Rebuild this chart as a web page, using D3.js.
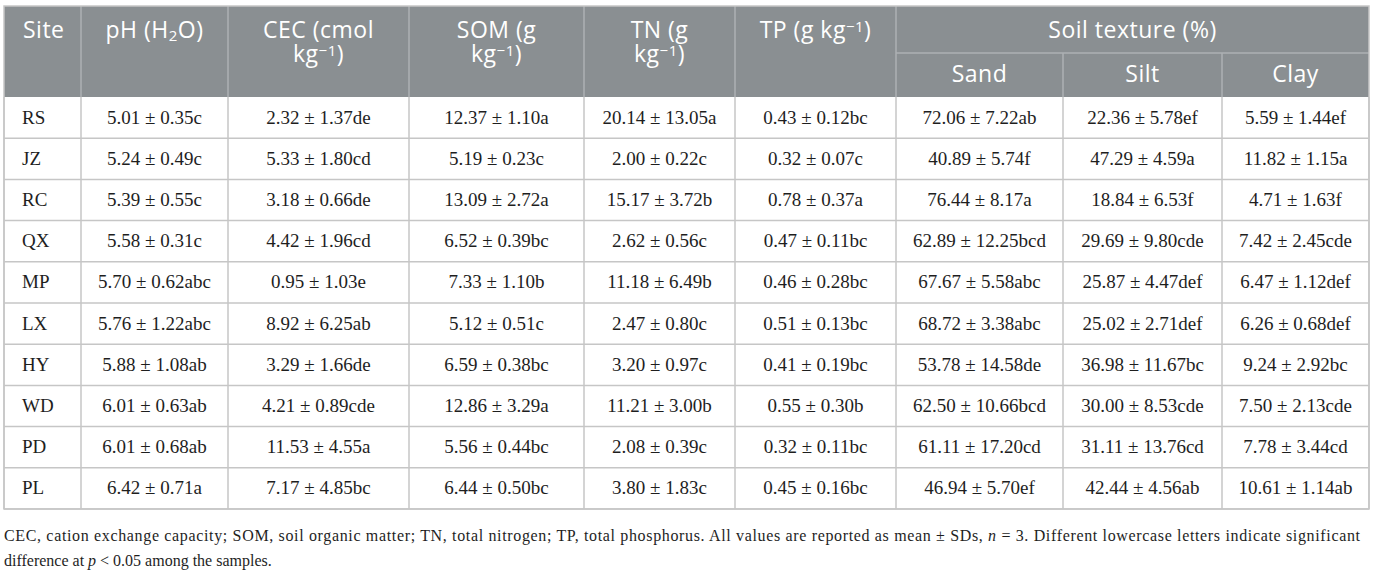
<!DOCTYPE html>
<html>
<head>
<meta charset="utf-8">
<script src="https://cdn.jsdelivr.net/npm/d3@7"></script>
<style>
  body { margin: 0; background: #fff; }
</style>
</head>
<body>
<script>
const W = 1375, H = 583;

// data: each cell is [mean, sd, letters]
const sites = ["RS", "JZ", "RC", "QX", "MP", "LX", "HY", "WD", "PD", "PL"];
const ph = [[5.01, 0.35, "c"], [5.24, 0.49, "c"], [5.39, 0.55, "c"], [5.58, 0.31, "c"], [5.70, 0.62, "abc"],
  [5.76, 1.22, "abc"], [5.88, 1.08, "ab"], [6.01, 0.63, "ab"], [6.01, 0.68, "ab"], [6.42, 0.71, "a"]];
const cec = [[2.32, 1.37, "de"], [5.33, 1.80, "cd"], [3.18, 0.66, "de"], [4.42, 1.96, "cd"], [0.95, 1.03, "e"],
  [8.92, 6.25, "ab"], [3.29, 1.66, "de"], [4.21, 0.89, "cde"], [11.53, 4.55, "a"], [7.17, 4.85, "bc"]];
const som = [[12.37, 1.10, "a"], [5.19, 0.23, "c"], [13.09, 2.72, "a"], [6.52, 0.39, "bc"], [7.33, 1.10, "b"],
  [5.12, 0.51, "c"], [6.59, 0.38, "bc"], [12.86, 3.29, "a"], [5.56, 0.44, "bc"], [6.44, 0.50, "bc"]];
const tn = [[20.14, 13.05, "a"], [2.00, 0.22, "c"], [15.17, 3.72, "b"], [2.62, 0.56, "c"], [11.18, 6.49, "b"],
  [2.47, 0.80, "c"], [3.20, 0.97, "c"], [11.21, 3.00, "b"], [2.08, 0.39, "c"], [3.80, 1.83, "c"]];
const tp = [[0.43, 0.12, "bc"], [0.32, 0.07, "c"], [0.78, 0.37, "a"], [0.47, 0.11, "bc"], [0.46, 0.28, "bc"],
  [0.51, 0.13, "bc"], [0.41, 0.19, "bc"], [0.55, 0.30, "b"], [0.32, 0.11, "bc"], [0.45, 0.16, "bc"]];
const sand = [[72.06, 7.22, "ab"], [40.89, 5.74, "f"], [76.44, 8.17, "a"], [62.89, 12.25, "bcd"], [67.67, 5.58, "abc"],
  [68.72, 3.38, "abc"], [53.78, 14.58, "de"], [62.50, 10.66, "bcd"], [61.11, 17.20, "cd"], [46.94, 5.70, "ef"]];
const silt = [[22.36, 5.78, "ef"], [47.29, 4.59, "a"], [18.84, 6.53, "f"], [29.69, 9.80, "cde"], [25.87, 4.47, "def"],
  [25.02, 2.71, "def"], [36.98, 11.67, "bc"], [30.00, 8.53, "cde"], [31.11, 13.76, "cd"], [42.44, 4.56, "ab"]];
const clay = [[5.59, 1.44, "ef"], [11.82, 1.15, "a"], [4.71, 1.63, "f"], [7.42, 2.45, "cde"], [6.47, 1.12, "def"],
  [6.26, 0.68, "def"], [9.24, 2.92, "bc"], [7.50, 2.13, "cde"], [7.78, 3.44, "cd"], [10.61, 1.14, "ab"]];

const columns = ["site", "ph", "cec", "som", "tn", "tp", "sand", "silt", "clay"];
const values = { ph, cec, som, tn, tp, sand, silt, clay };

// header labels: lines of [text, kind] parts (kind: n normal, sub, sup)
const headers = {
  site: [[["Site", "n"]]],
  ph: [[["pH (H", "n"], ["2", "sub"], ["O)", "n"]]],
  cec: [[["CEC (cmol", "n"]], [["kg", "n"], ["\u22121", "sup"], [")", "n"]]],
  som: [[["SOM (g", "n"]], [["kg", "n"], ["\u22121", "sup"], [")", "n"]]],
  tn: [[["TN (g", "n"]], [["kg", "n"], ["\u22121", "sup"], [")", "n"]]],
  tp: [[["TP (g kg", "n"], ["\u22121", "sup"], [")", "n"]]],
  sand: [[["Sand", "n"]]],
  silt: [[["Silt", "n"]]],
  clay: [[["Clay", "n"]]]
};
const groupLabel = "Soil texture (%)";
const groupCols = ["sand", "silt", "clay"];

// layout
const colEdges = [4, 81, 228, 409, 584, 735, 896, 1063, 1222, 1369];
const headTop = 6, headBottom = 97, subSplit = 53, tableBottom = 509;
const headFill = "#8a8f92", headLine = "#adb1b3", bodyLine = "#c6c6c6";

const x0 = d3.scaleOrdinal().domain(columns).range(colEdges.slice(0, -1));
const x1 = d3.scaleOrdinal().domain(columns).range(colEdges.slice(1));
const xMid = c => (x0(c) + x1(c)) / 2;
const y = d3.scaleBand().domain(sites).range([headBottom, tableBottom]);
const fmt = d3.format(".2f");

const svg = d3.select("body").append("svg")
  .attr("width", W).attr("height", H)
  .style("display", "block");

// header background
svg.append("rect")
  .attr("x", colEdges[0]).attr("y", headTop)
  .attr("width", colEdges[colEdges.length - 1] - colEdges[0])
  .attr("height", headBottom - headTop)
  .attr("fill", headFill);

// header vertical lines
const gFirst = groupCols[0];
svg.selectAll("line.hv")
  .data(columns.slice(1))
  .enter().append("line")
  .attr("class", "hv")
  .attr("x1", c => x0(c)).attr("x2", c => x0(c))
  .attr("y1", c => groupCols.includes(c) && c != gFirst ? subSplit : headTop)
  .attr("y2", headBottom)
  .attr("stroke", headLine).attr("stroke-width", 1.5);

svg.append("line")
  .attr("x1", x0(gFirst)).attr("x2", x1(groupCols[groupCols.length - 1]))
  .attr("y1", subSplit).attr("y2", subSplit)
  .attr("stroke", headLine).attr("stroke-width", 1.5);

// header text, one text element per cell, lines as tspans
const headFont = "'Open Sans', sans-serif";
columns.forEach(c => {
  const isSub = groupCols.includes(c);
  const tx = c == "site" ? x0(c) + 19 : xMid(c);
  const t = svg.append("text")
    .attr("y", isSub ? 82 : 38)
    .attr("text-anchor", c == "site" ? "start" : "middle")
    .attr("font-family", headFont)
    .attr("font-size", "23px")
    .attr("letter-spacing", "0.5px")
    .attr("fill", "#fff");
  headers[c].forEach((parts, i) => {
    parts.forEach(([s, kind], j) => {
      const ts = t.append("tspan").text(s);
      if (j == 0) ts.attr("x", tx).attr("y", (isSub ? 82 : 38) + i * 24);
      if (kind == "sub") ts.attr("baseline-shift", "-22%").attr("font-size", "15px");
      if (kind == "sup") ts.attr("baseline-shift", "38%").attr("font-size", "15px");
    });
  });
});

svg.append("text")
  .attr("x", (x0(gFirst) + x1(groupCols[groupCols.length - 1])) / 2)
  .attr("y", 38)
  .attr("text-anchor", "middle")
  .attr("font-family", headFont)
  .attr("font-size", "23px")
  .attr("letter-spacing", "0.5px")
  .attr("fill", "#fff")
  .text(groupLabel);

// body lines
svg.selectAll("line.hr")
  .data(sites)
  .enter().append("line")
  .attr("class", "hr")
  .attr("x1", colEdges[0]).attr("x2", colEdges[colEdges.length - 1])
  .attr("y1", d => y(d) + y.bandwidth()).attr("y2", d => y(d) + y.bandwidth())
  .attr("stroke", bodyLine).attr("stroke-width", 1.5);

svg.selectAll("line.bv")
  .data(colEdges)
  .enter().append("line")
  .attr("class", "bv")
  .attr("x1", d => d).attr("x2", d => d)
  .attr("y1", headBottom).attr("y2", tableBottom)
  .attr("stroke", bodyLine).attr("stroke-width", 1.5);

// outer frame
svg.append("rect")
  .attr("x", colEdges[0]).attr("y", headTop)
  .attr("width", colEdges[colEdges.length - 1] - colEdges[0])
  .attr("height", tableBottom - headTop)
  .attr("fill", "none")
  .attr("stroke", bodyLine).attr("stroke-width", 1.5);

// body text
const bodyFont = "'Liberation Serif', 'Times New Roman', serif";
const cells = [];
sites.forEach((s, i) => {
  cells.push({ col: "site", row: s, text: s });
  columns.slice(1).forEach(c => {
    const [m, sd, l] = values[c][i];
    cells.push({ col: c, row: s, text: fmt(m) + " \u00b1 " + fmt(sd) + l });
  });
});

svg.selectAll("text.cell")
  .data(cells)
  .enter().append("text")
  .attr("class", "cell")
  .attr("x", d => d.col == "site" ? x0(d.col) + 18 : xMid(d.col))
  .attr("y", d => y(d.row) + y.bandwidth() / 2 + 6)
  .attr("text-anchor", d => d.col == "site" ? "start" : "middle")
  .attr("font-family", bodyFont)
  .attr("font-size", "19px")
  .attr("fill", "#1e1e1e")
  .text(d => d.text);

// footnote
const note1 = [["CEC, cation exchange capacity; SOM, soil organic matter; TN, total nitrogen; TP, total phosphorus. All values are reported as mean \u00b1 SDs, ", false],
  ["n", true], [" = 3. Different lowercase letters indicate significant", false]];
const note2 = [["difference at ", false], ["p", true], [" < 0.05 among the samples.", false]];

[note1, note2].forEach((parts, i) => {
  const t = svg.append("text")
    .attr("x", colEdges[0])
    .attr("y", 541 + i * 25)
    .attr("font-family", bodyFont)
    .attr("font-size", "16px")
    .attr("fill", "#1e1e1e");
  parts.forEach(([s, it]) => {
    t.append("tspan").text(s).attr("font-style", it ? "italic" : null);
  });
  if (i == 0) t.attr("textLength", 1356).attr("lengthAdjust", "spacing");
});
</script>
</body>
</html>
